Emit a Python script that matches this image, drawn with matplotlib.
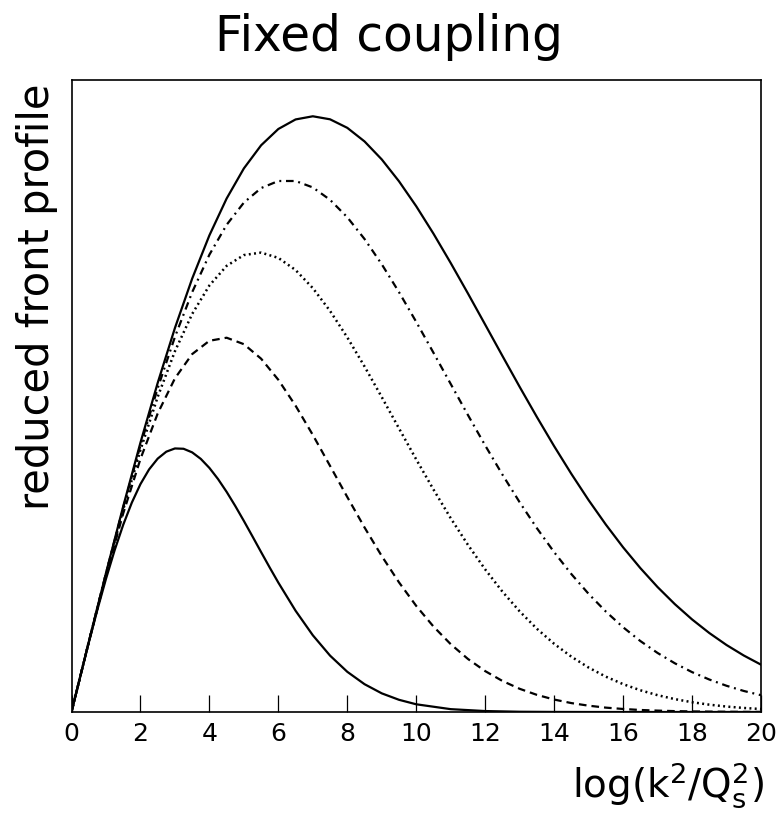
import matplotlib
matplotlib.use("Agg")
import matplotlib.pyplot as plt

# values (y as fraction of the frame height)
x_a = [0, 0.25, 0.5, 0.75, 1.0, 1.25, 1.5, 1.75, 2.0, 2.25, 2.5, 2.75, 3.0, 3.25,
       3.5, 3.75, 4.0, 4.25, 4.5, 4.75, 5.0, 5.25, 5.5, 5.75, 6.0, 6.5, 7.0, 7.5,
       8.0, 8.5, 9.0, 9.5, 10, 11, 12, 13, 14, 15, 16, 17, 18, 19, 20]
curve_a = [0, 0.0553, 0.1096, 0.1617, 0.2107, 0.2558, 0.2962, 0.3313, 0.3606,
           0.3838, 0.4009, 0.4119, 0.4170, 0.4165, 0.4108, 0.4005, 0.3862, 0.3686,
           0.3483, 0.3260, 0.3023, 0.2778, 0.2530, 0.2285, 0.2047, 0.1602, 0.1214,
           0.0892, 0.0636, 0.0440, 0.0295, 0.0193, 0.0122, 0.0045, 0.0015, 0.0004,
           0.0001, 0, 0, 0, 0, 0, 0]

x = [i * 0.5 for i in range(41)]
curve_b = [0, .1103, .2163, .3142, .4004, .4723, .5279, .5663, .5874, .5922, .5820,
           .5590, .5256, .4846, .4384, .3894, .3401, .2920, .2467, .2051, .1678,
           .1352, .1073, .0839, .0647, .0491, .0367, .0271, .0197, .0141, .0100,
           .0069, .0048, .0032, .0022, .0014, .0009, .0006, .0004, .0002, .0001]
curve_c = [0, .1105, .2182, .3204, .4146, .4986, .5708, .6298, .6749, .7059, .7230,
           .7269, .7185, .6993, .6707, .6346, .5927, .5467, .4982, .4487, .3996,
           .3520, .3066, .2644, .2256, .1904, .1592, .1317, .1079, .0875, .0703,
           .0559, .0441, .0344, .0266, .0204, .0155, .0116, .0086, .0064, .0047]
curve_d = [0, .1106, .2192, .3235, .4218, .5123, .5935, .6642, .7236, .7709, .8060,
           .8290, .8402, .8402, .8300, .8104, .7828, .7484, .7084, .6643, .6172,
           .5684, .5190, .4698, .4217, .3756, .3318, .2908, .2529, .2182, .1869,
           .1589, .1341, .1123, .0934, .0771, .0631, .0514, .0415, .0333, .0266]
curve_e = [0, .1107, .2197, .3254, .4262, .5207, .6076, .6857, .7542, .8125, .8601,
           .8967, .9225, .9376, .9426, .9378, .9243, .9028, .8743, .8397, .8002,
           .7568, .7104, .6622, .6129, .5634, .5144, .4667, .4206, .3767, .3352,
           .2965, .2606, .2277, .1977, .1707, .1465, .1250, .1060, .0894, .0749]

xticks = list(range(0, 21, 2))

plt.rcParams['lines.scale_dashes'] = False
plt.rcParams['font.family'] = ['DejaVu Sans']
plt.rcParams['mathtext.fontset'] = 'dejavusans'

fig = plt.figure(figsize=(7.78, 8.18), dpi=100)
ax = fig.add_axes([71.5 / 778, 106 / 818, 689.5 / 778, 632 / 818])

lw = 1.6
ax.plot(x_a, curve_a, color='black', lw=lw)
ax.plot(x, curve_b, color='black', lw=lw, dashes=(5.5, 3.6))
ax.plot(x, curve_c, color='black', lw=1.8, dashes=(1.4, 2.4))
ax.plot(x, curve_d, color='black', lw=lw, dashes=(5.5, 3.4, 1.4, 3.4))
ax.plot(x, curve_e, color='black', lw=lw)

ax.set_xlim(0, 20)
ax.set_ylim(0, 1)
ax.set_xticks(xticks)
ax.set_xticklabels([str(t) for t in xticks])
ax.set_yticks([])
ax.tick_params(axis='x', direction='in', length=12, width=0.9, pad=7,
               labelsize=18, top=False)
for s in ax.spines.values():
    s.set_linewidth(1.2)
    s.set_color('black')

fig.text(0.5, 1 - 37 / 818, 'Fixed coupling', ha='center', va='center',
         fontsize=35)
fig.text(764 / 778, 1 - 797 / 818, r'$\mathrm{log(k^{2}/Q^{2}_{s})}$',
         ha='right', va='baseline', fontsize=28)
fig.text(37 / 778, 1 - 297 / 818, 'reduced front profile', rotation=90,
         ha='center', va='center', fontsize=30)

fig.savefig('out.png', dpi=100)
